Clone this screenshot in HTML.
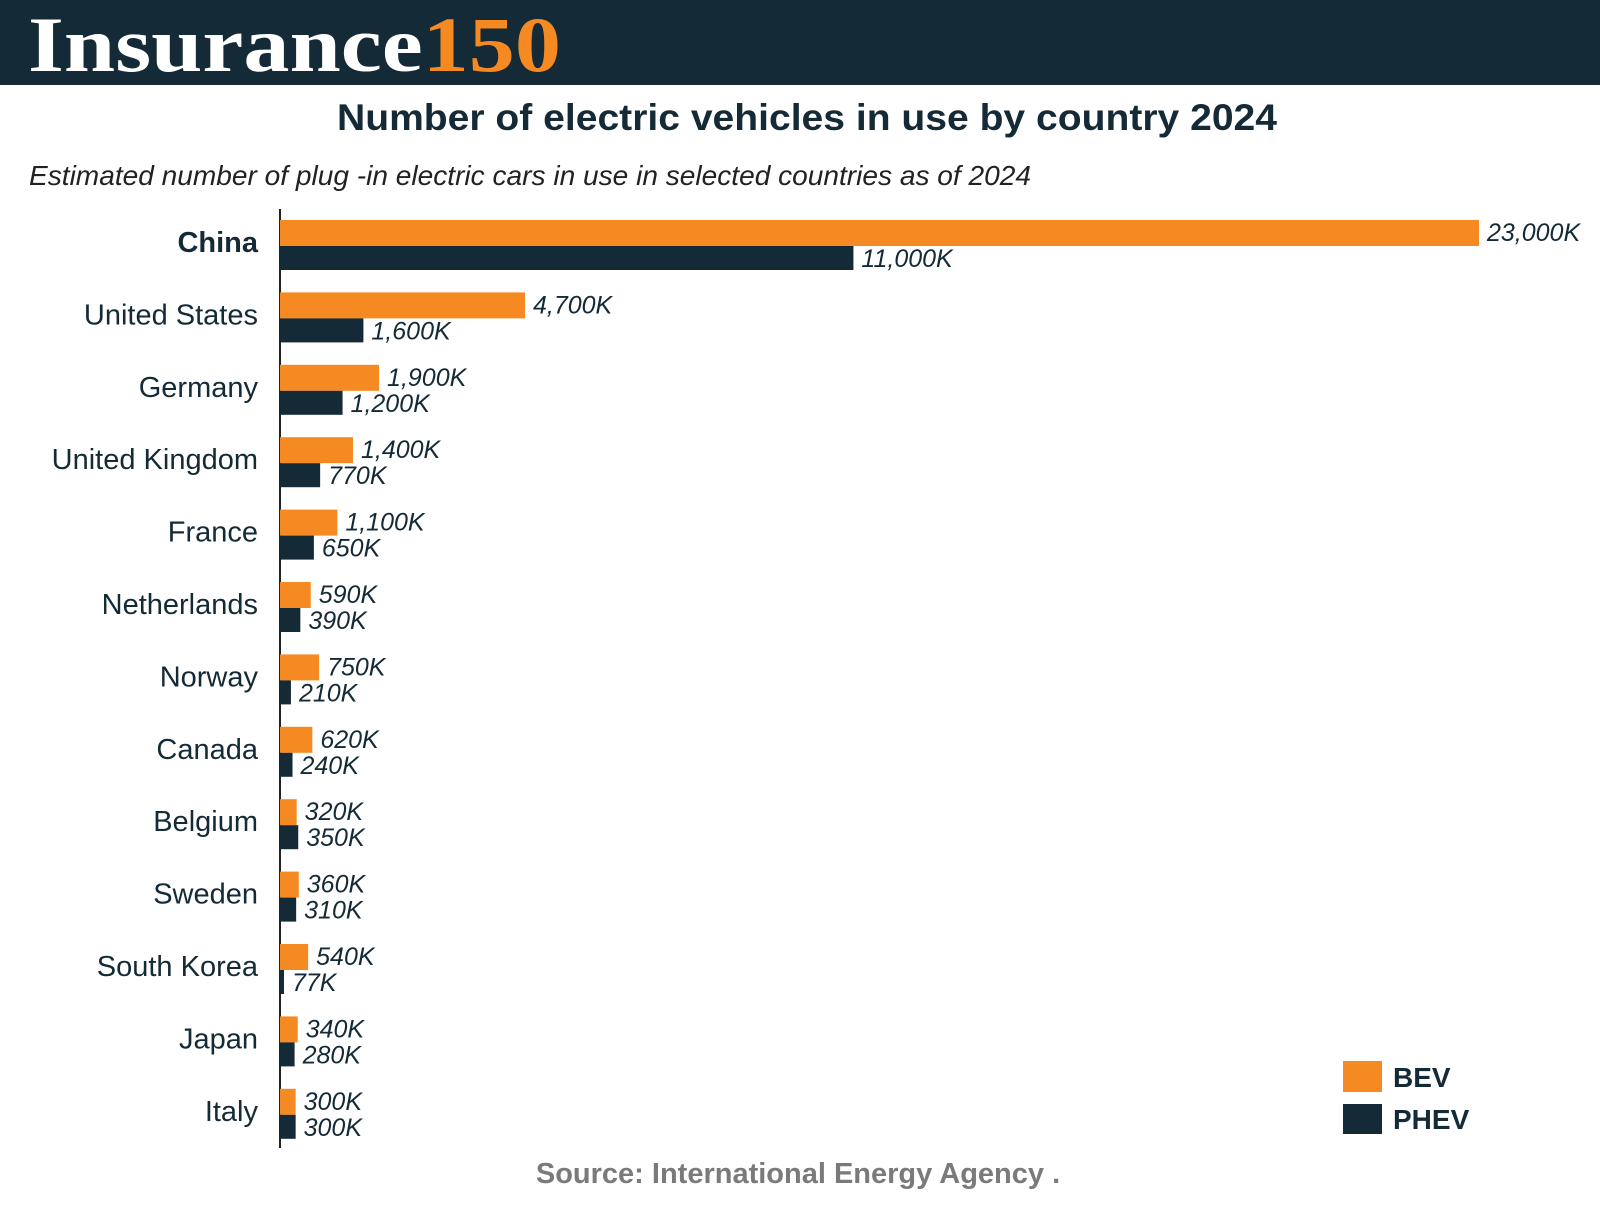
<!DOCTYPE html>
<html><head><meta charset="utf-8"><style>
body{margin:0;width:1600px;height:1200px;background:#fff;overflow:hidden;font-family:"Liberation Sans",sans-serif}
</style></head><body>
<svg width="1600" height="1200" xmlns="http://www.w3.org/2000/svg">
<rect x="0" y="0" width="1600" height="85" fill="#142a36"/>
<text x="28" y="71" font-family="Liberation Serif,serif" font-weight="bold" font-size="78" fill="#fff" textLength="533" lengthAdjust="spacingAndGlyphs">Insurance<tspan fill="#f68a22">150</tspan></text>
<text x="337" y="130" font-weight="bold" font-size="37" fill="#142a36" textLength="940" lengthAdjust="spacingAndGlyphs">Number of electric vehicles in use by country 2024</text>
<text x="29" y="185" font-style="italic" font-size="28" fill="#222" textLength="1002" lengthAdjust="spacingAndGlyphs">Estimated number of plug -in electric cars in use in selected countries as of 2024</text>
<line x1="280" y1="209" x2="280" y2="1148" stroke="#222" stroke-width="2"/>
<g id="bars"></g>
<rect x="1343" y="1061" width="39" height="31" fill="#f68a22"/>
<text x="1393" y="1087" font-weight="bold" font-size="28" fill="#142a36">BEV</text>
<rect x="1343" y="1104" width="39" height="30" fill="#142a36"/>
<text x="1393" y="1129" font-weight="bold" font-size="28" fill="#142a36">PHEV</text>
<text x="798" y="1183" text-anchor="middle" font-weight="bold" font-size="29" fill="#7a7a7a">Source: International Energy Agency .</text>
</svg>
<script>
const countries=["China","United States","Germany","United Kingdom","France","Netherlands","Norway","Canada","Belgium","Sweden","South Korea","Japan","Italy"];
const bev=[23000,4700,1900,1400,1100,590,750,620,320,360,540,340,300];
const phev=[11000,1600,1200,770,650,390,210,240,350,310,77,280,300];
const NS="http://www.w3.org/2000/svg";
const g=document.getElementById('bars');
const x0=280, pxPerK=1199/23000, top0=220, rowH=72.4, barH=26;
const xs=v=>v*pxPerK;
const fmt=v=>v.toLocaleString('en-US')+'K';
function mk(tag,attrs){const e=document.createElementNS(NS,tag);for(const k in attrs)e.setAttribute(k,attrs[k]);g.appendChild(e);return e;}
countries.forEach((c,i)=>{
  const y=top0+i*rowH;
  const b=mk('rect',{x:x0,y:y,width:xs(bev[i]),height:barH,fill:'#f68a22'});
  
  
  const p=mk('rect',{x:x0,y:y+barH,width:xs(phev[i]),height:barH-2,fill:'#142a36'});
  
  
  const t1=mk('text',{x:x0+xs(bev[i])+8,y:y+21,'font-size':25,'font-style':'italic',fill:'#142a36'});
  t1.textContent=fmt(bev[i]);
  
  
  const t2=mk('text',{x:x0+xs(phev[i])+8,y:y+barH+21,'font-size':25,'font-style':'italic',fill:'#142a36'});
  t2.textContent=fmt(phev[i]);
  
  
  const l=mk('text',{x:258,y:y+barH+6,'text-anchor':'end','font-size':29,fill:'#142a36','font-weight':i===0?'bold':'normal'});
  l.textContent=c;
  
  
});
</script>
</body></html>
